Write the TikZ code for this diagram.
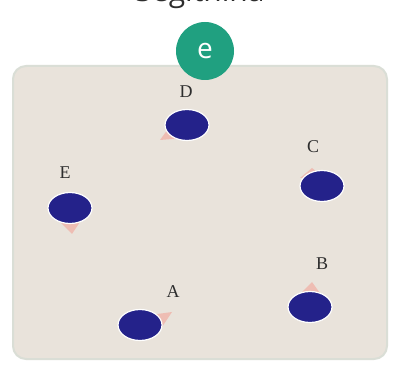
\documentclass[tikz,border=0pt]{standalone}
\usepackage{fontspec}
\newfontfamily\opensans{Open Sans}
\newfontfamily\lserif{Liberation Serif}
\definecolor{boxfill}{RGB}{233,227,219}
\definecolor{boxedge}{RGB}{218,222,214}
\definecolor{teal}{RGB}{32,160,128}
\definecolor{navy}{RGB}{36,34,138}
\definecolor{pinkish}{RGB}{240,180,170}
\definecolor{labelgray}{RGB}{45,45,45}
\tikzset{
  dot/.style={ellipse, fill=navy, draw=white, line width=1.2pt, minimum width=44pt, minimum height=31pt, inner sep=0pt},
  lbl/.style={text=labelgray, font=\lserif\fontsize{18}{18}\selectfont, inner sep=0pt},
  needle/.style={fill=pinkish, draw=none, opacity=0.8}
}
\usetikzlibrary{shapes.geometric}
\begin{document}
\begin{tikzpicture}[x=1pt,y=-1pt]
\useasboundingbox (0,0) rectangle (399,371);
\clip (0,0) rectangle (399,371);
\fill[white] (0,0) rectangle (399,371);
% title, cut at the top in the reference
\node[anchor=base, text=labelgray, font=\opensans\fontsize{30}{30}\selectfont, inner sep=0pt] (title) at (200,2) {Segítnina};
% panel
\draw[boxedge, line width=2pt, fill=boxfill, rounded corners=13pt] (13,66) rectangle (387,359);
% badge
\node[circle, fill=teal, minimum size=58pt, inner sep=0pt, text=white, font=\opensans\fontsize{28}{28}\selectfont] (badge) at (205,51) {e};
% needles
\fill[needle] (160,140) -- (176,118) -- (184,138) -- cycle;
\fill[needle] (60,222) -- (80,222) -- (72,234) -- cycle;
\fill[needle] (300,178) -- (312,168) -- (322,176) -- cycle;
\fill[needle] (150,315) -- (172,312) -- (160,330) -- cycle;
\fill[needle] (298,296) -- (312,282) -- (322,296) -- cycle;
% dots
\node[dot] (D) at (187,125) {};
\node[dot] (E) at (70,208) {};
\node[dot] (C) at (322,186) {};
\node[dot] (A) at (140,325) {};
\node[dot] (B) at (310,307) {};
% labels
\node[lbl] (lD) at (186,92) {D};
\node[lbl] (lE) at (65,173) {E};
\node[lbl] (lC) at (313,147) {C};
\node[lbl] (lA) at (173,292) {A};
\node[lbl] (lB) at (322,264) {B};
\end{tikzpicture}
\end{document}
